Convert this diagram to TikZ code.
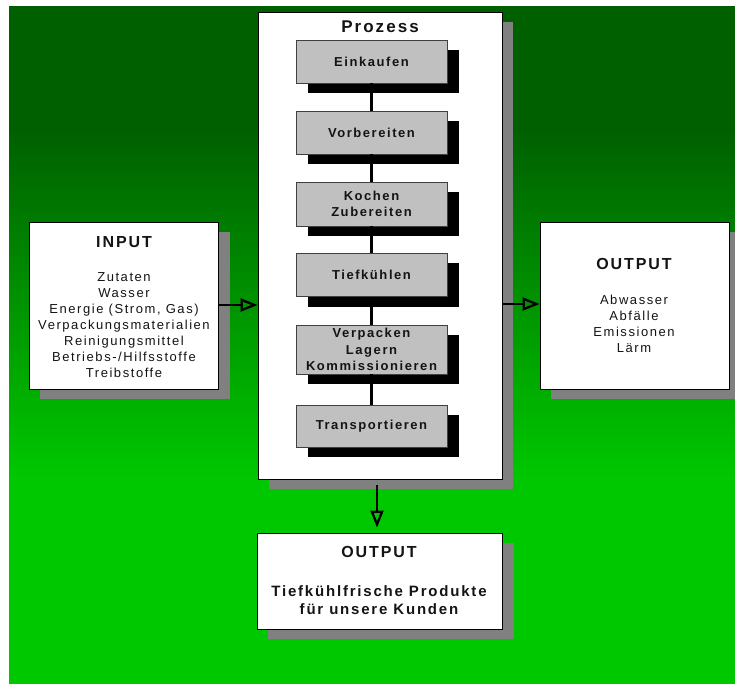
\documentclass[tikz,border=0pt]{standalone}
\usepackage{fontspec}
\setmainfont{Liberation Sans}[LetterSpace=12]
\usetikzlibrary{arrows.meta,shadows}
\definecolor{dkgreen}{RGB}{0,96,0}
\definecolor{brgreen}{RGB}{0,200,0}
\definecolor{shgray}{RGB}{128,128,128}
\definecolor{boxgray}{RGB}{192,192,192}
\definecolor{txt}{RGB}{20,20,20}
\tikzset{
  bigbox/.style={draw=black, line width=0.9pt, fill=white, inner sep=0pt,
    drop shadow={shadow xshift=11pt, shadow yshift=-10pt, fill=shgray, opacity=1}},
  stepbox/.style={draw=black!75, line width=0.9pt, fill=boxgray, inner sep=0pt,
    minimum width=151pt, align=center, text=txt,
    font=\bfseries\fontsize{13}{16}\selectfont,
    drop shadow={shadow xshift=12pt, shadow yshift=-10pt, fill=black, opacity=1}},
  titletext/.style={text=txt, font=\bfseries\fontsize{16}{19}\selectfont, inner sep=0pt},
  bodytext/.style={text=txt, align=center, font=\fontsize{13}{16}\selectfont, inner sep=0pt},
  flowarrow/.style={line width=2.3pt, -{Triangle[open, length=17pt, width=13pt, line width=2.3pt]}},
  linkline/.style={line width=2.2pt}
}
\begin{document}
\begin{tikzpicture}[x=1pt,y=-1pt]
\useasboundingbox (0,0) rectangle (735,684);
% background
\fill[dkgreen] (9,6) rectangle (735,130.5);
\shade[top color=dkgreen, bottom color=brgreen] (9,130) rectangle (735,480.5);
\fill[brgreen] (9,480) rectangle (735,684);

% process box
\node[bigbox, minimum width=244pt, minimum height=467pt] (proc) at (380,245.5) {};
\node[titletext, font=\bfseries\fontsize{17}{20}\selectfont] (proctitle) at (380,27) {Prozess};

\node[stepbox, minimum height=43pt] (s1) at (371.5,61.5) {Einkaufen};
\node[stepbox, minimum height=43pt] (s2) at (371.5,132.5) {Vorbereiten};
\node[stepbox, minimum height=44pt] (s3) at (371.5,204) {Kochen\\Zubereiten};
\node[stepbox, minimum height=43pt] (s4) at (371.5,275) {Tiefkühlen};
\node[stepbox, minimum height=49pt, font=\bfseries\fontsize{13}{16.5}\selectfont] (s5) at (371.5,349.5) {Verpacken\\Lagern\\Kommissionieren};
\node[stepbox, minimum height=42pt] (s6) at (371.5,426) {Transportieren};

\draw[linkline] (s1.south) -- (s2.north);
\draw[linkline] (s2.south) -- (s3.north);
\draw[linkline] (s3.south) -- (s4.north);
\draw[linkline] (s4.south) -- (s5.north);
\draw[linkline] (s5.south) -- (s6.north);

% input box
\node[bigbox, minimum width=189.5pt, minimum height=167pt] (input) at (123.75,305.5) {};
\node[titletext] (inputtitle) at (124,242) {INPUT};
\node[bodytext] (inputbody) at (124,325) {Zutaten\\Wasser\\Energie (Strom, Gas)\\Verpackungsmaterialien\\Reinigungsmittel\\Betriebs-/Hilfsstoffe\\Treibstoffe};

% right output box
\node[bigbox, minimum width=189pt, minimum height=167pt] (outr) at (634.5,305.5) {};
\node[titletext] (outrtitle) at (634,264) {OUTPUT};
\node[bodytext] (outrbody) at (634,323.5) {Abwasser\\Abfälle\\Emissionen\\Lärm};

% bottom output box
\node[bigbox, minimum width=245.5pt, minimum height=96pt] (outb) at (379.75,581) {};
\node[titletext] (outbtitle) at (379,552) {OUTPUT};
\node[bodytext, font=\bfseries\fontsize{15}{18}\selectfont] (outbbody) at (379,600.5) {Tiefkühlfrische Produkte\\für unsere Kunden};

% arrows
\draw[flowarrow] (input.east |- 0,305) -- (proc.west |- 0,305);
\draw[flowarrow] (proc.east |- 0,304) -- (outr.west |- 0,304);
\coordinate (bstart) at (377,485);
\coordinate (bend) at (377,527.5);
\draw[flowarrow] (bstart) -- (bend);
\end{tikzpicture}
\end{document}
